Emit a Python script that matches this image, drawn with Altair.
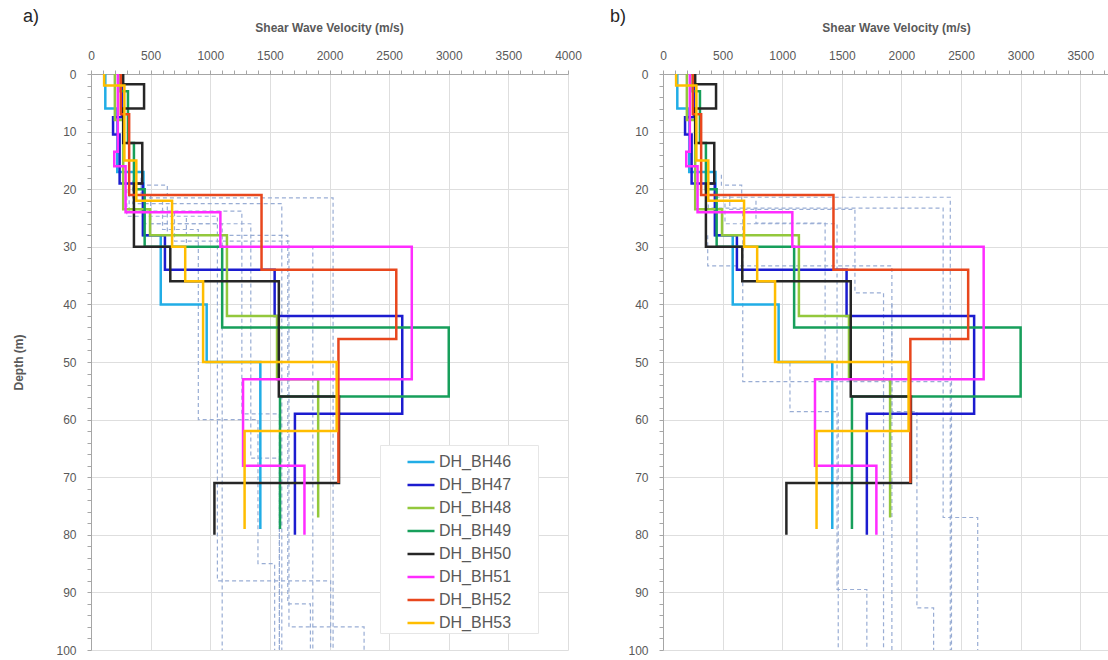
import altair as alt
import pandas as pd

# Borehole names and line colours
BOREHOLES = ["DH_BH46", "DH_BH47", "DH_BH48", "DH_BH49",
             "DH_BH50", "DH_BH51", "DH_BH52", "DH_BH53"]
COLORS = ["#21ade6", "#1c1ccf", "#93c83c", "#179f5b",
          "#262626", "#ff2cff", "#e8471d", "#ffbd00"]

# Layer shear wave velocities (m/s) and layer boundaries (m) per borehole
BH46_VS = [120, 220, 440, 585, 970, 1420]
BH46_DEPTH = [0, 6, 17, 28, 40, 50, 79]
BH47_VS = [260, 185, 240, 435, 620, 1540, 2610, 1710]
BH47_DEPTH = [0, 7.5, 10.5, 19, 28, 34, 42, 59, 80]
BH48_VS = [200, 270, 495, 1140, 1560, 1905]
BH48_DEPTH = [0, 8, 23.5, 28, 42, 53, 77]
BH49_VS = [250, 310, 360, 450, 1100, 3000, 1585]
BH49_DEPTH = [0, 3, 12, 20, 30, 44, 56, 79]
BH50_VS = [270, 445, 270, 430, 360, 665, 1575, 2080, 1035]
BH50_DEPTH = [0, 1.8, 6, 12, 19, 30, 36, 56, 71, 80]
BH51_VS = [225, 195, 290, 1085, 2690, 1275, 1790]
BH51_DEPTH = [0, 13.5, 16, 24, 30, 53, 68, 80]
BH52_VS = [250, 320, 1430, 2560, 2075]
BH52_DEPTH = [0, 7, 21, 34, 46, 71]
BH53_VS = [110, 280, 380, 680, 790, 940, 2060, 1288]
BH53_DEPTH = [0, 2, 15, 22, 30, 36, 50, 62, 79]

# Background (dashed) profiles, panel a
A_DASHED_VS = [
    [420, 2030], [350, 1600], [320, 1265, 1580], [300, 1060, 2010],
    [500, 1100], [600, 900, 1400, 1540], [640, 1650, 1840],
    [700, 1660, 2290], [450, 1340, 1580], [800, 1860], [440, 640],
]
A_DASHED_DEPTH = [
    [18, 21.5, 100], [18.5, 22.5, 100], [19.5, 23.8, 59, 100], [20, 24.7, 88, 100],
    [21, 26, 100], [22, 27, 60, 85, 100], [23, 28, 92, 100],
    [24, 29, 96, 100], [22, 26, 66.7, 100], [25, 30, 100], [17.5, 19.3, 21],
]

# Background (dashed) profiles, panel b
B_DASHED_VS = [
    [430, 2410], [380, 2350, 2640], [780, 1360, 1065, 1470], [669, 2420],
    [375, 1920], [560, 1610, 1850], [520, 1460, 1710], [1920, 2130, 2270],
    [490, 660],
]
B_DASHED_DEPTH = [
    [18, 21.4, 100], [19, 23.3, 77, 100], [22, 25.9, 50, 58.6, 100], [24, 53.4, 100],
    [28, 33.3, 100], [21, 23.5, 38, 100], [22.5, 26, 89.5, 100], [40, 58.6, 92.7, 100],
    [17.5, 19.3, 22],
]

PANEL_TAGS = ["a)", "b)"]
X_TITLE = "Shear Wave Velocity (m/s)"
Y_TITLE = "Depth (m)"

FONT = "Liberation Sans"
TEXT_GREY = "#595959"


def step_rows(name, velocities, bounds):
    """Turn a layered profile into the corner points of a step line."""
    rows = []
    for i, v in enumerate(velocities):
        rows.append({"profile": name, "seq": 2 * i, "vs": v, "depth": bounds[i]})
        rows.append({"profile": name, "seq": 2 * i + 1, "vs": v, "depth": bounds[i + 1]})
    return rows


solid_vs = [BH46_VS, BH47_VS, BH48_VS, BH49_VS, BH50_VS, BH51_VS, BH52_VS, BH53_VS]
solid_depth = [BH46_DEPTH, BH47_DEPTH, BH48_DEPTH, BH49_DEPTH,
               BH50_DEPTH, BH51_DEPTH, BH52_DEPTH, BH53_DEPTH]
solid_rows = []
for name, vs, dep in zip(BOREHOLES, solid_vs, solid_depth):
    solid_rows += step_rows(name, vs, dep)
solid_df = pd.DataFrame(solid_rows)


def dashed_frame(prefix, vs_lists, depth_lists):
    rows = []
    for k, (vs, dep) in enumerate(zip(vs_lists, depth_lists)):
        rows += step_rows(f"{prefix}{k}", vs, dep)
    return pd.DataFrame(rows)


dashed_a = dashed_frame("a", A_DASHED_VS, A_DASHED_DEPTH)
dashed_b = dashed_frame("b", B_DASHED_VS, B_DASHED_DEPTH)

PLOT_H = 576


def panel(dashed_df, x_max, width, tag, tag_x, y_title, legend, title_x):
    x_axis = alt.Axis(
        orient="top",
        values=list(range(0, x_max + 1, 100)),
        format="d",
        labelExpr="datum.value % 500 === 0 ? datum.label : ''",
        labelOverlap=False,
        labelFlush=False,
        labelPadding=8,
        tickSize=4,
        title=X_TITLE,
        titleX=title_x,
        titlePadding=15,
        gridColor={"condition": {"test": "datum.value % 500 === 0", "value": "#dedede"},
                   "value": "transparent"},
    )
    y_axis = alt.Axis(
        values=list(range(0, 101, 2)),
        format="d",
        labelExpr="datum.value % 10 === 0 ? datum.label : ''",
        labelOverlap=False,
        labelFlush=False,
        labelPadding=11,
        tickSize=4,
        title=y_title,
        titleX=-73,
        titleY=PLOT_H / 2,
        titleBaseline="middle",
        titleAlign="center",
        gridColor={"condition": {"test": "datum.value % 10 === 0", "value": "#dedede"},
                   "value": "transparent"},
    )
    x = alt.X("vs:Q", scale=alt.Scale(domain=[0, x_max], nice=False), axis=x_axis)
    y = alt.Y("depth:Q", scale=alt.Scale(domain=[0, 100], reverse=True, nice=False),
              axis=y_axis)

    dashed = alt.Chart(dashed_df).mark_line(
        strokeDash=[4, 3], strokeWidth=1.2, color="#93a9d2", opacity=0.95
    ).encode(x=x, y=y, detail="profile:N", order="seq:Q")

    solid = alt.Chart(solid_df).mark_line(strokeWidth=2.5).encode(
        x=x, y=y,
        color=alt.Color("profile:N",
                        scale=alt.Scale(domain=BOREHOLES, range=COLORS),
                        sort=BOREHOLES, legend=legend),
        order="seq:Q",
    )

    label = alt.Chart(pd.DataFrame({"tag": [tag]})).mark_text(
        fontSize=18, font=FONT, color="#262626", align="center", baseline="middle"
    ).encode(x=alt.value(tag_x), y=alt.value(-57), text="tag:N")

    return alt.layer(dashed, solid, label).properties(width=width, height=PLOT_H)


legend_a = alt.Legend(
    title=None,
    orient="none",
    legendX=289,
    legendY=371,
    symbolType="stroke",
    symbolSize=729,
    symbolStrokeWidth=2.5,
    symbolOffset=24,
    labelFontSize=16,
    labelFont=FONT,
    labelColor=TEXT_GREY,
    labelOffset=3,
    labelExpr="datum.label + '\u2800\u2800'",
    rowPadding=0,
    padding=2,
    fillColor="white",
    strokeColor="#e6e6e6",
)

panel_a = panel(dashed_a, 4000, 477, PANEL_TAGS[0], -60, Y_TITLE, legend_a, 238)
panel_b = panel(dashed_b, 3733, 445, PANEL_TAGS[1], -45, "", None, 233)

chart = (
    alt.hconcat(panel_a, panel_b, spacing=95, bounds="flush")
    .resolve_scale(color="independent")
    .properties(padding={"left": 12, "top": 8, "right": 0, "bottom": 2},
                background="white")
    .configure_view(strokeWidth=0)
    .configure_axis(
        labelFont=FONT, labelFontSize=12, labelColor=TEXT_GREY,
        titleFont=FONT, titleFontSize=12, titleFontWeight="bold", titleColor=TEXT_GREY,
        domainColor="#a6a6a6", tickColor="#a6a6a6", gridWidth=1,
    )
)

chart.save("out.html", embed_options={"renderer": "svg", "actions": False})
